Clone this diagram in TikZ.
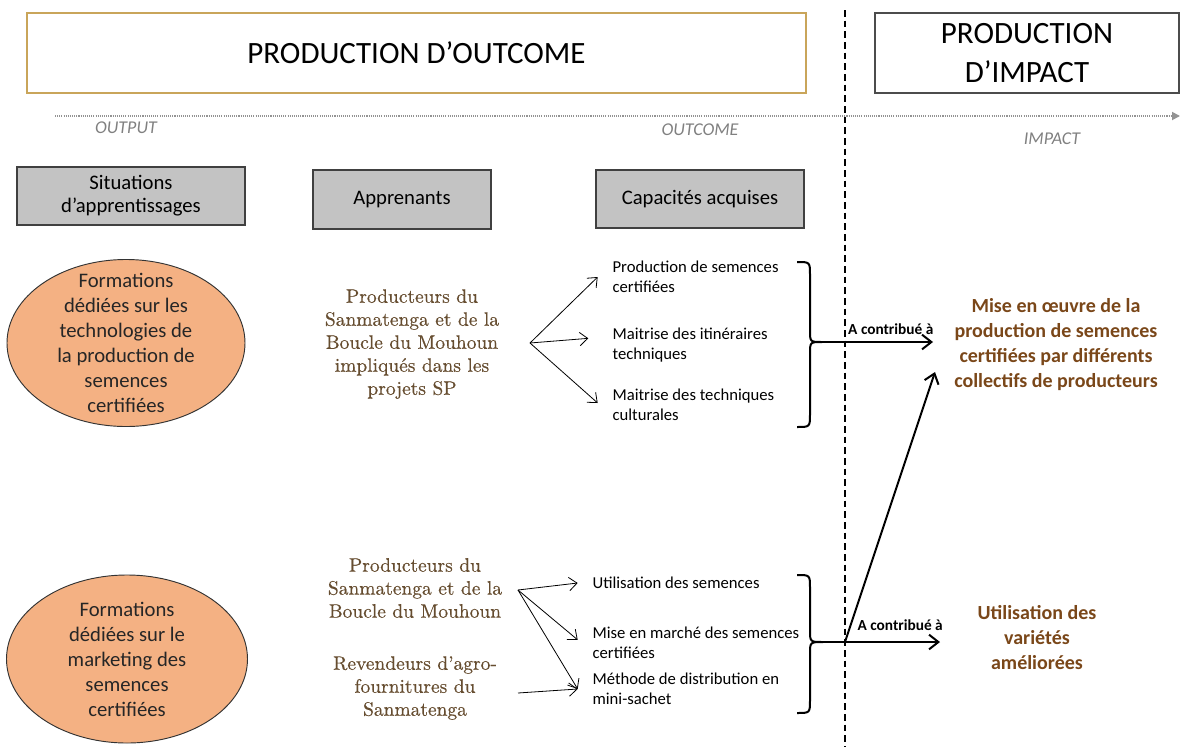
\documentclass[tikz,border=0pt]{standalone}
\usepackage{fontspec}
\usepackage{tikz}
\usetikzlibrary{arrows.meta, shapes.geometric, positioning}
\newfontfamily\carl{Carlito}
\newfontfamily\lmser{lmroman10-regular}[Extension=.otf,FakeBold=0.4]
\definecolor{brownTxt}{HTML}{664D30}
\definecolor{rustTxt}{HTML}{7A4719}
\definecolor{peach}{HTML}{F4B183}
\definecolor{goldline}{HTML}{C9A55A}
\definecolor{boxgray}{HTML}{C3C3C3}

\begin{document}
\begin{tikzpicture}[x=0.75pt,y=-0.75pt,
  phase/.style={draw,line width=1pt,inner sep=0pt,align=center,
                font=\carl\fontsize{23.25}{27}\selectfont},
  colhead/.style={draw=black!75,fill=boxgray,line width=0.8pt,inner sep=0pt,
                  align=center,font=\carl\fontsize{15.5}{17.25}\selectfont},
  axislbl/.style={text=gray,font=\carl\itshape\fontsize{13.5}{16}\selectfont},
  training/.style={ellipse,draw=black!80,fill=peach,line width=0.7pt,inner sep=0pt},
  trainlbl/.style={align=center,text=black!85,font=\carl\fontsize{15.5}{18.75}\selectfont},
  learner/.style={align=center,text=brownTxt,font=\lmser\fontsize{14.6}{17.25}\selectfont},
  skill/.style={anchor=west,align=left,inner sep=1pt,
                font=\carl\fontsize{12.5}{15}\selectfont},
  result/.style={align=center,text=rustTxt,
                 font=\carl\bfseries\fontsize{15}{18.75}\selectfont},
  lbl/.style={inner sep=1pt,font=\carl\bfseries\fontsize{11.5}{13}\selectfont},
  fan/.style={-{Straight Barb[length=6pt,width=10pt]},line width=0.6pt},
  contrib/.style={-{Straight Barb[length=7pt,width=11pt]},line width=1.5pt},
  brace/.style={line width=1.5pt}]
  \useasboundingbox (0,0) rectangle (1182,747);

  % phases
  \node[phase,draw=goldline,minimum width=584.25pt,minimum height=60pt] (Pout) at (416.5,53)
    {\raisebox{-3pt}{PRODUCTION D’OUTCOME}};
  \node[phase,draw=black!70,minimum width=228pt,minimum height=60pt] (Pimp) at (1027,53)
    {PRODUCTION\\[2pt]D’IMPACT};
  \draw[line width=1.5pt,dash pattern=on 5pt off 3pt] (845,10) -- (845,747);
  \draw[gray!85,line width=1.3pt,dash pattern=on 0.8pt off 0.8pt,
        -{Triangle[length=6pt,width=6pt]}] (55,116) -- (1180,116);
  \node[axislbl] (Lout) at (126,128) {OUTPUT};
  \node[axislbl] (Lcome) at (700,130) {OUTCOME};
  \node[axislbl] (Limp) at (1052,139) {IMPACT};

  % column heads
  \node[colhead,minimum width=171pt,minimum height=43.5pt] (Sit) at (131,196)
    {Situations\\d’apprentissages};
  \node[colhead,minimum width=133.5pt,minimum height=44.25pt] (App) at (402,199.5)
    {Apprenants};
  \node[colhead,minimum width=156pt,minimum height=43.5pt] (Cap) at (700,199)
    {Capacités acquises};

  % first row
  \node[training,minimum width=178.5pt,minimum height=125.25pt] (Ftech) at (126,343) {};
  \node[trainlbl] (FtechTxt) at (Ftech) {Formations\\dédiées sur les\\technologies de\\la production de\\semences\\certifiées};
  \node[learner] (Ptop) at (412,344) {Producteurs du\\Sanmatenga et de la\\Boucle du Mouhoun\\impliqués dans les\\projets SP};
  \coordinate (fanA) at (530,343);
  \node[skill] (Csem) at (611,277) {Production de semences\\certifiées};
  \node[skill] (Citi) at (611,345) {Maitrise des itinéraires\\techniques};
  \node[skill] (Ccult) at (611,405) {Maitrise des techniques\\culturales};
  \draw[fan] (fanA) -- ([xshift=-10pt]Csem.west);
  \draw[fan] (fanA) -- ([xshift=-17pt,yshift=5pt]Citi.west);
  \draw[fan] (fanA) -- ([xshift=-10pt,yshift=1.5pt]Ccult.west);
  \coordinate (tipA) at (822,342);
  \draw[brace] (797,262) .. controls (810,262) .. (810,275) -- (810,330)
    .. controls (810,342) .. (tipA) .. controls (810,342) .. (810,354)
    -- (810,414) .. controls (810,427) .. (797,427);
  \node[result] (Rmise) at (1056,345) {Mise en œuvre de la\\production de semences\\certifiées par différents\\collectifs de producteurs};
  \coordinate (endA) at (933,342);
  \draw[contrib] (tipA) -- node[lbl,above=4pt,pos=0.62] {A contribué à} (endA);

  % second row
  \node[training,minimum width=180.75pt,minimum height=126pt] (Fmark) at (127,659) {};
  \node[trainlbl] (FmarkTxt) at (Fmark) {Formations\\dédiées sur le\\marketing des\\semences\\certifiées};
  \node[learner] (Pbot) at (415,588) {Producteurs du\\Sanmatenga et de la\\Boucle du Mouhoun};
  \node[learner] (Rev) at (415,688) {Revendeurs d’agro-\\fournitures du\\Sanmatenga};
  \coordinate (fanB) at (518,590);
  \coordinate (fanC) at (518,693);
  \node[skill] (Cutil) at (591,583) {Utilisation des semences};
  \node[skill] (Cmarch) at (591,642.5) {Mise en marché des semences\\certifiées};
  \node[skill] (Cdist) at (591,689) {Méthode de distribution en\\mini-sachet};
  \draw[fan] (fanB) -- ([xshift=-10pt]Cutil.west);
  \draw[fan] (fanB) -- ([xshift=-10pt,yshift=2pt]Cmarch.west);
  \draw[fan] (fanB) -- ([xshift=-10pt]Cdist.west);
  \draw[fan] (fanC) -- ([xshift=-10pt]Cdist.west);
  \coordinate (tipB) at (823,642);
  \draw[brace] (797,575) .. controls (810,575) .. (810,588) -- (810,630)
    .. controls (810,642) .. (tipB) .. controls (810,642) .. (810,654)
    -- (810,700) .. controls (810,713) .. (797,713);
  \node[result] (Rutil) at (1037,638) {Utilisation des\\variétés\\améliorées};
  \coordinate (endB) at (940,642);
  \coordinate (endC) at (935,372);
  \draw[contrib] (tipB) -- node[lbl,above=7pt,pos=0.66] {A contribué à} (endB);
  \draw[contrib] (845,642) -- (endC);
\end{tikzpicture}
\end{document}
